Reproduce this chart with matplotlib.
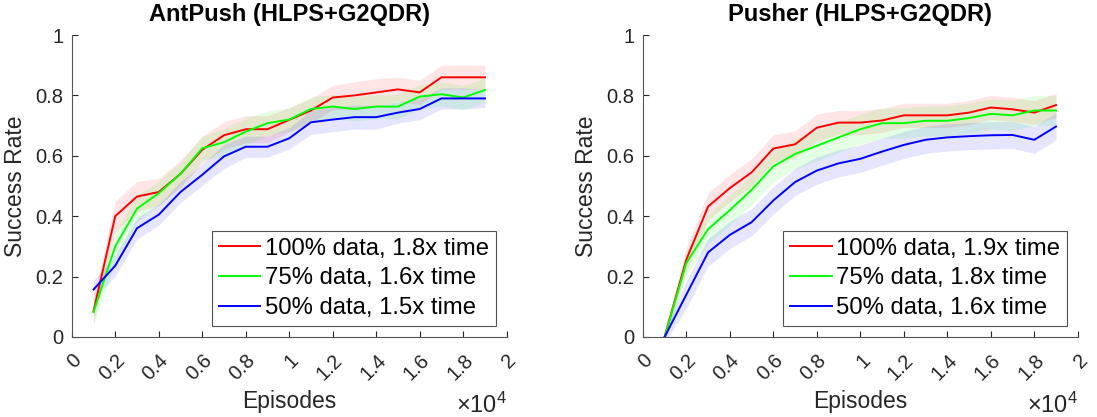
import numpy as np
import matplotlib.pyplot as plt

plt.rcParams['font.family'] = ['Liberation Sans', 'DejaVu Sans']
plt.rcParams['mathtext.fontset'] = 'custom'
plt.rcParams['mathtext.rm'] = 'Liberation Sans'

episodes = [1000, 2000, 3000, 4000, 5000, 6000, 7000, 8000, 9000, 10000,
            11000, 12000, 13000, 14000, 15000, 16000, 17000, 18000, 19000]
xtick_vals = [0, 2000, 4000, 6000, 8000, 10000, 12000, 14000, 16000, 18000, 20000]
xtick_labels = ['0', '0.2', '0.4', '0.6', '0.8', '1', '1.2', '1.4', '1.6', '1.8', '2']
ytick_vals = [0, 0.2, 0.4, 0.6, 0.8, 1]
ytick_labels = ['0', '0.2', '0.4', '0.6', '0.8', '1']

# AntPush
ant_red = [0.085, 0.40, 0.465, 0.48, 0.54, 0.62, 0.668, 0.688, 0.688, 0.719,
           0.75, 0.793, 0.80, 0.81, 0.82, 0.81, 0.86, 0.86, 0.86]
ant_green = [0.082, 0.30, 0.425, 0.476, 0.54, 0.625, 0.645, 0.68, 0.708, 0.72,
             0.755, 0.763, 0.755, 0.763, 0.763, 0.796, 0.804, 0.793, 0.818]
ant_blue = [0.157, 0.236, 0.36, 0.405, 0.48, 0.537, 0.598, 0.63, 0.63, 0.658,
            0.711, 0.72, 0.728, 0.728, 0.743, 0.755, 0.79, 0.79, 0.79]
ant_red_err = [0.04, 0.05, 0.05, 0.045, 0.045, 0.045, 0.045, 0.045, 0.045, 0.04,
               0.04, 0.04, 0.045, 0.045, 0.04, 0.04, 0.04, 0.04, 0.04]
ant_green_err = [0.04, 0.05, 0.045, 0.04, 0.04, 0.04, 0.045, 0.045, 0.04, 0.04,
                 0.04, 0.04, 0.04, 0.04, 0.04, 0.04, 0.04, 0.04, 0.04]
ant_blue_err = [0.03, 0.035, 0.035, 0.035, 0.035, 0.035, 0.04, 0.035, 0.035, 0.035,
                0.04, 0.04, 0.04, 0.04, 0.035, 0.035, 0.035, 0.035, 0.03]

# Pusher
push_red = [0.0, 0.256, 0.432, 0.493, 0.545, 0.624, 0.638, 0.693, 0.71, 0.71,
            0.717, 0.734, 0.734, 0.734, 0.743, 0.76, 0.754, 0.743, 0.768]
push_green = [0.0, 0.245, 0.357, 0.42, 0.487, 0.565, 0.606, 0.633, 0.661, 0.688,
              0.708, 0.708, 0.716, 0.716, 0.725, 0.739, 0.734, 0.75, 0.75]
push_blue = [0.0, 0.14, 0.28, 0.338, 0.38, 0.452, 0.513, 0.551, 0.575, 0.59,
             0.614, 0.636, 0.653, 0.661, 0.665, 0.668, 0.669, 0.653, 0.697]
push_red_err = [0.02, 0.04, 0.045, 0.045, 0.045, 0.045, 0.045, 0.045, 0.04, 0.04,
                0.04, 0.04, 0.04, 0.04, 0.04, 0.04, 0.04, 0.04, 0.04]
push_green_err = [0.02, 0.04, 0.05, 0.05, 0.05, 0.05, 0.05, 0.05, 0.05, 0.05,
                  0.05, 0.05, 0.05, 0.05, 0.05, 0.05, 0.05, 0.05, 0.05]
push_blue_err = [0.02, 0.045, 0.045, 0.045, 0.045, 0.045, 0.045, 0.045, 0.045, 0.045,
                 0.045, 0.045, 0.045, 0.045, 0.045, 0.045, 0.045, 0.045, 0.045]

panels = [
    ("AntPush (HLPS+G2QDR)",
     [(ant_red, ant_red_err, '#ff0000', '100% data, 1.8x time'),
      (ant_green, ant_green_err, '#00ff00', '75% data, 1.6x time'),
      (ant_blue, ant_blue_err, '#0000ff', '50% data, 1.5x time')]),
    ("Pusher (HLPS+G2QDR)",
     [(push_red, push_red_err, '#ff0000', '100% data, 1.9x time'),
      (push_green, push_green_err, '#00ff00', '75% data, 1.8x time'),
      (push_blue, push_blue_err, '#0000ff', '50% data, 1.6x time')]),
]

fig = plt.figure(figsize=(10.97, 4.17), dpi=100)
axes = [fig.add_axes([0.0654, 0.192, 0.3965, 0.724]),
        fig.add_axes([0.586, 0.192, 0.3965, 0.724])]

x = np.array(episodes)
for ax, (title, series) in zip(axes, panels):
    for mean, err, color, label in series:
        m = np.array(mean)
        e = np.array(err)
        ax.fill_between(x, m - e, m + e, color=color, alpha=0.1, linewidth=0)
    for mean, err, color, label in series:
        ax.plot(x, mean, color=color, linewidth=1.4, label=label)

    ax.set_xlim(0, 20000)
    ax.set_ylim(0, 1)
    ax.set_xticks(xtick_vals)
    ax.set_xticklabels(xtick_labels, rotation=45, ha='right', va='top',
                       rotation_mode='anchor')
    ax.set_yticks(ytick_vals)
    ax.set_yticklabels(ytick_labels)
    ax.tick_params(direction='in', length=4, width=0.8, colors='#262626',
                   labelsize=14.5, pad=6)
    ax.tick_params(axis='x', pad=10)
    for side in ['top', 'right']:
        ax.spines[side].set_visible(False)
    for side in ['left', 'bottom']:
        ax.spines[side].set_color('#555555')
        ax.spines[side].set_linewidth(0.8)

    ax.set_title(title, fontsize=17, fontweight='bold', pad=10)
    ax.set_xlabel('Episodes', fontsize=16.5, color='#262626', labelpad=4)
    ax.set_ylabel('Success Rate', fontsize=16.5, color='#262626', labelpad=6)
    ax.text(1.0, -0.225, r'$\times\mathregular{10^4}$', transform=ax.transAxes,
            ha='right', va='center', fontsize=17, color='#262626')

    leg = ax.legend(loc='lower right', fontsize=17.2, frameon=True, fancybox=False,
                    borderaxespad=0.45, handlelength=1.75, handletextpad=0.18,
                    borderpad=0.3, labelspacing=0.32)
    leg.get_frame().set_edgecolor('#262626')
    leg.get_frame().set_linewidth(0.8)

fig.savefig('out.png', dpi=100)
